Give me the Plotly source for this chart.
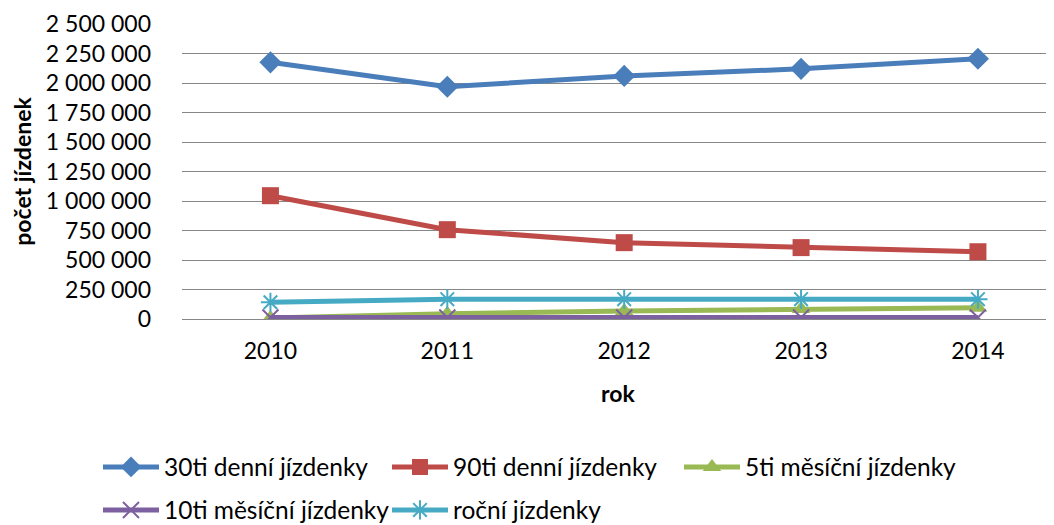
import plotly.graph_objects as go

years = ["2010", "2011", "2012", "2013", "2014"]
s30 = [2175000, 1968000, 2060000, 2120000, 2205000]
s90 = [1045000, 757000, 647000, 605000, 570000]
s5m = [8000, 45000, 68000, 85000, 95000]
s10m = [13000, 13000, 13000, 13000, 13000]
s_year = [142000, 168000, 168000, 168000, 168000]
y_ticks = [0, 250000, 500000, 750000, 1000000, 1250000, 1500000, 1750000,
           2000000, 2250000, 2500000]

FONT = "Lato"
FS = 23
LFS = 24.5
BODY = 8  # default page margin around the plot div
W, H = 1054 - BODY, 525 - BODY
PLOT_L = 182 - BODY

series = [
    ("30ti denní jízdenky", s30, "#4A7EBB", "diamond", 1, "legend", 104, 467),
    ("90ti denní jízdenky", s90, "#BE4B48", "square", 1, "legend2", 393, 467),
    ("5ti měsíční jízdenky", s5m, "#98B954", "triangle-up", 1, "legend3", 685, 467),
    ("10ti měsíční jízdenky", s10m, "#7D60A0", "x-thin-open", 2, "legend4", 104, 510),
    ("roční jízdenky", s_year, "#46AAC5", "asterisk-open", 2, "legend5", 393, 510),
]

fig = go.Figure()
legends = {}
for name, vals, col, sym, lw, lg, lx, ly in series:
    fig.add_trace(go.Scatter(
        x=years, y=vals, name=name, mode="lines+markers",
        line=dict(color=col, width=5),
        marker=dict(symbol=sym, size=17 if sym in ("diamond", "square") else 16,
                    color=col, line=dict(color=col, width=2 if lw == 2 else 0)),
        legend=lg,
    ))
    legends[lg] = dict(
        orientation="h", font=dict(family=FONT, size=LFS, color="#000000"),
        itemwidth=56, bgcolor="rgba(0,0,0,0)", xanchor="left", yanchor="middle",
        xref="container", yref="container",
        x=(lx - 6 - BODY) / W, y=1 - (ly - BODY) / H,
    )

fig.update_layout(
    width=W, height=H,
    margin=dict(l=PLOT_L, r=0, t=24 - BODY, b=206),
    paper_bgcolor="white", plot_bgcolor="white",
    separators=", ",
    showlegend=True,
    font=dict(family=FONT, size=FS, color="#000000"),
    **legends,
)
fig.update_xaxes(
    type="category", range=[-0.5, 4.43],
    showgrid=False, showline=False, zeroline=False, automargin=False,
    ticks="", ticklabelstandoff=16,
    tickfont=dict(family=FONT, size=FS),
    title=dict(text="<b>rok</b>", font=dict(family=FONT, size=FS), standoff=22),
)
fig.update_yaxes(
    range=[0, 2500000], tickvals=y_ticks, tickformat=",d",
    showgrid=True, gridcolor="#878787", gridwidth=1.3,
    zeroline=True, zerolinecolor="#878787", zerolinewidth=1.3,
    showline=False, ticks="", ticklabelstandoff=30, automargin=False,
    tickfont=dict(family=FONT, size=FS),
    title=dict(text="<b>počet jízdenek</b>", font=dict(family=FONT, size=FS), standoff=18),
)

fig.write_html("out.html")
